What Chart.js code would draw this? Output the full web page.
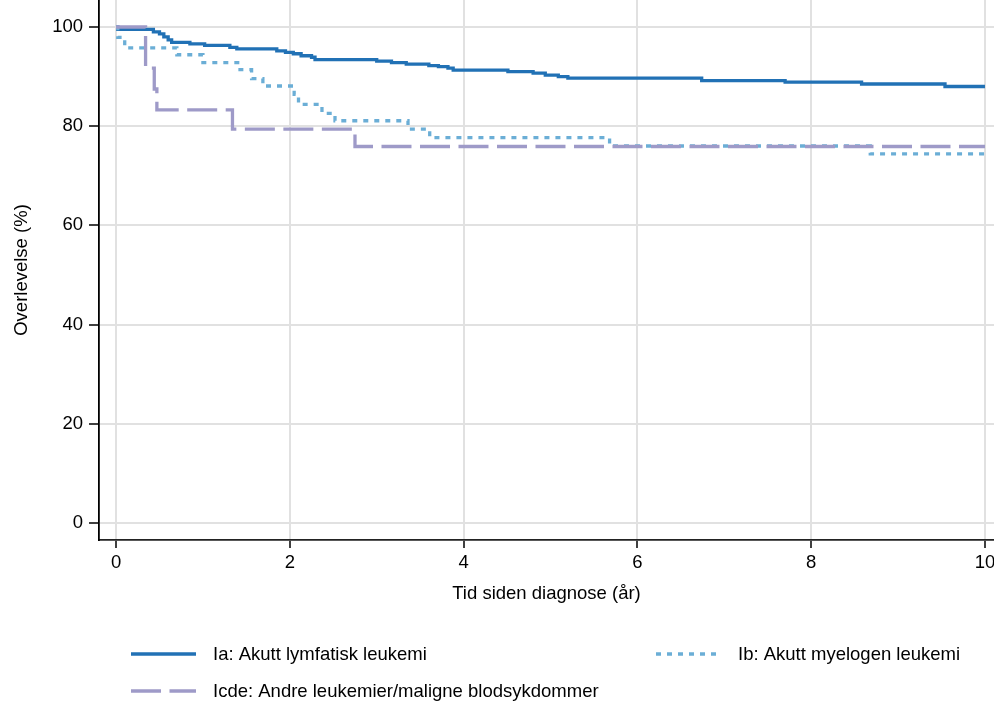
<!DOCTYPE html>
<html>
<head>
<meta charset="utf-8">
<script src="https://cdn.jsdelivr.net/npm/chart.js@4.4.0/dist/chart.umd.min.js"></script>
<style>
  html, body { margin: 0; padding: 0; background: #fff; }
  #wrap { width: 994px; height: 701px; }
</style>
</head>
<body>
<div id="wrap"><canvas id="kmChart" width="994" height="701"></canvas></div>
<script>
// Kaplan-Meier curves (years since diagnosis, survival %)
const allTimes = [0, 0.02, 0.43, 0.5, 0.55, 0.6, 0.64, 0.85, 1.02, 1.31, 1.39, 1.85, 1.95, 2.04, 2.13, 2.25, 2.29, 3.0, 3.17, 3.34, 3.6, 3.71, 3.82, 3.88, 4.51, 4.8, 4.94, 5.09, 5.2, 6.74, 7.7, 8.58, 9.54, 10];
const allSurv = [100, 99.5, 99.0, 98.6, 98.0, 97.4, 96.9, 96.6, 96.3, 95.9, 95.6, 95.2, 94.9, 94.6, 94.2, 93.9, 93.4, 93.1, 92.8, 92.5, 92.2, 92.0, 91.7, 91.3, 91.0, 90.7, 90.3, 90.0, 89.7, 89.2, 88.9, 88.5, 88.0, 88.0];

const amlTimes = [0, 0.02, 0.1, 0.7, 1.0, 1.4, 1.56, 1.69, 2.05, 2.1, 2.37, 2.52, 3.36, 3.61, 5.68, 8.68, 10];
const amlSurv = [100, 97.9, 95.8, 94.4, 92.8, 91.4, 89.6, 88.1, 86.4, 84.4, 82.6, 81.1, 79.4, 77.7, 76.0, 74.4, 74.4];

const otherTimes = [0, 0.34, 0.44, 0.47, 1.34, 2.75, 10];
const otherSurv = [100, 91.7, 87.5, 83.3, 79.4, 75.9, 75.9];

const seriesLabels = [
    'Ia: Akutt lymfatisk leukemi',
    'Ib: Akutt myelogen leukemi',
    'Icde: Andre leukemier/maligne blodsykdommer'
];
const xTicks = [0, 2, 4, 6, 8, 10];
const yTicks = [0, 20, 40, 60, 80, 100];

const FONT = 'Liberation Sans, Arial, sans-serif';
const FONT_SIZE = 18.5;

function toPoints(times, values) {
    return times.map((t, i) => ({ x: t, y: values[i] }));
}

// legend drawn under the plot, two columns like the original
const bottomLegend = {
    id: 'bottomLegend',
    afterDraw(chart) {
        const ctx = chart.ctx;
        const slots = [
            { x: 131, y: 654 },
            { x: 656, y: 654 },
            { x: 131, y: 691 }
        ];
        ctx.save();
        chart.data.datasets.forEach((ds, i) => {
            const s = slots[i];
            ctx.beginPath();
            ctx.strokeStyle = ds.borderColor;
            ctx.lineWidth = ds.borderWidth;
            ctx.lineCap = 'butt';
            ctx.setLineDash(ds.borderDash || []);
            ctx.moveTo(s.x, s.y);
            ctx.lineTo(s.x + 65, s.y);
            ctx.stroke();
            ctx.setLineDash([]);
            ctx.fillStyle = '#000';
            ctx.font = FONT_SIZE + 'px ' + FONT;
            ctx.textBaseline = 'middle';
            ctx.textAlign = 'left';
            ctx.fillText(ds.label, s.x + 82, s.y + 1);
        });
        ctx.restore();
    }
};

const ctx = document.getElementById('kmChart').getContext('2d');
new Chart(ctx, {
    type: 'line',
    data: {
        datasets: [
            {
                label: seriesLabels[0],
                data: toPoints(allTimes, allSurv),
                borderColor: '#2171b5',
                borderWidth: 3.3,
                stepped: true,
                pointRadius: 0,
                order: 2
            },
            {
                label: seriesLabels[1],
                data: toPoints(amlTimes, amlSurv),
                borderColor: '#6baed6',
                borderWidth: 3.3,
                borderDash: [5, 6],
                stepped: true,
                pointRadius: 0,
                order: 1
            },
            {
                label: seriesLabels[2],
                data: toPoints(otherTimes, otherSurv),
                borderColor: '#9e9ac8',
                borderWidth: 3.3,
                borderDash: [30, 8.5],
                stepped: true,
                pointRadius: 0,
                order: 0
            }
        ]
    },
    options: {
        responsive: false,
        animation: false,
        layout: { padding: 0 },
        plugins: {
            legend: { display: false },
            tooltip: { enabled: false }
        },
        scales: {
            x: {
                type: 'linear',
                min: -0.196,
                max: 10.104,
                afterBuildTicks: s => { s.ticks = xTicks.map(v => ({ value: v })); },
                afterFit: s => { s.height = 161; s.paddingLeft = 0; s.paddingRight = 0; },
                grid: { color: '#e1e1e1', lineWidth: 2, tickColor: '#000', tickLength: 8, tickWidth: 1.5 },
                border: { display: true, color: '#222', width: 1.8 },
                ticks: { color: '#000', font: { size: FONT_SIZE, family: FONT }, padding: 4, maxRotation: 0, minRotation: 0, autoSkip: false },
                title: {
                    display: true,
                    text: 'Tid siden diagnose (år)',
                    color: '#000',
                    font: { size: FONT_SIZE, family: FONT },
                    padding: { top: 0, bottom: 96 }
                }
            },
            y: {
                type: 'linear',
                min: -3.43,
                max: 105.44,
                afterBuildTicks: s => { s.ticks = yTicks.map(v => ({ value: v })); },
                afterFit: s => { s.width = 99; s.paddingTop = 0; s.paddingBottom = 0; },
                grid: { color: '#e1e1e1', lineWidth: 2, tickColor: '#000', tickLength: 10, tickWidth: 1.5 },
                border: { display: true, color: '#000', width: 1.8 },
                ticks: { color: '#000', font: { size: FONT_SIZE, family: FONT }, padding: 6 },
                title: {
                    display: true,
                    text: 'Overlevelse (%)',
                    color: '#000',
                    font: { size: FONT_SIZE, family: FONT },
                    padding: { top: 11, bottom: 0 }
                }
            }
        }
    },
    plugins: [bottomLegend]
});
</script>
</body>
</html>
